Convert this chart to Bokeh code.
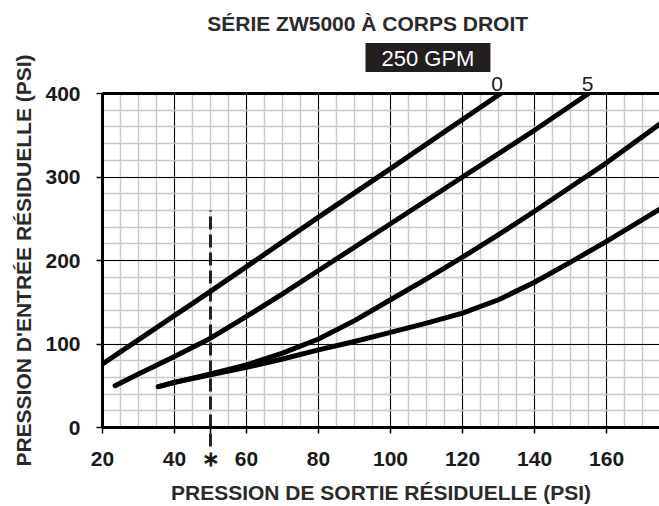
from bokeh.plotting import figure
from bokeh.models import Range1d, FixedTicker, LinearAxis, Title
from bokeh.embed import file_html
from bokeh.resources import INLINE

# ---- texts ----
title_text = "SÉRIE ZW5000 À CORPS DROIT"
flow_text = "250 GPM"
x_title = "PRESSION DE SORTIE RÉSIDUELLE (PSI)"
y_title = "PRESSION D'ENTRÉE RÉSIDUELLE (PSI)"

# ---- axes ----
x_ticks = [20, 40, 60, 80, 100, 120, 140, 160]
y_ticks = [0, 100, 200, 300, 400]
x_minor = list(range(20, 175, 5))
y_minor = list(range(0, 420, 20))

# ---- curves (outlet psi -> inlet psi) ----
curve0_x = [20, 50, 80, 100, 130.6]
curve0_y = [76, 163, 252, 310, 400]

curve5_x = [23.5, 30, 40, 50, 60, 70, 80, 100, 120, 140, 155]
curve5_y = [50, 64, 85, 107, 133, 160, 188, 244, 300, 356, 400]

curve3_x = [35.5, 40, 50, 60, 70, 80, 90, 100, 110, 120, 130, 140, 150, 160, 175]
curve3_y = [49, 54, 64, 75, 89, 106, 128, 153, 178, 204, 231, 259, 288, 317, 364]

curve4_x = [35.5, 40, 50, 60, 70, 80, 90, 100, 110, 120, 130, 140, 150, 160, 175]
curve4_y = [49, 54, 63, 72, 82, 93, 103, 114, 125, 137, 153, 174, 198, 223, 262]

curve_labels = ["0", "5"]
curve_label_x = [129.6, 154.7]

marker_x = 50
marker_label = "∗"
marker_top = 260

FONT = "Liberation Sans"
TXT = "#1a1a1a"

p = figure(width=659, height=506, output_backend="svg", toolbar_location=None,
           x_range=Range1d(20, 174.7), y_range=Range1d(0, 400),
           min_border_left=102, min_border_right=0, min_border_top=93,
           min_border_bottom=77)
p.background_fill_color = "white"
p.border_fill_color = "white"
p.outline_line_color = None

# dashed reference line (inside the frame)
p.segment(x0=[marker_x], y0=[0], x1=[marker_x], y1=[marker_top],
          line_color="#222222", line_width=3, line_dash="13 5")

for xs, ys in [(curve0_x, curve0_y), (curve5_x, curve5_y),
               (curve3_x, curve3_y), (curve4_x, curve4_y)]:
    p.line(xs, ys, line_width=5, line_color="black",
           line_cap="round", line_join="round")

# axes
p.xaxis.ticker = FixedTicker(ticks=sorted(x_ticks + [marker_x]), minor_ticks=[marker_x])
p.xaxis.major_label_overrides = {marker_x: marker_label}
p.yaxis.ticker = FixedTicker(ticks=y_ticks, minor_ticks=y_minor)
for ax in (p.xaxis[0], p.yaxis[0]):
    ax.axis_line_width = 3
    ax.axis_line_color = "black"
    ax.major_tick_out = 6
    ax.major_tick_in = 0
    ax.major_tick_line_width = 1.5
    ax.major_tick_line_color = "black"
    ax.major_label_text_font = FONT
    ax.major_label_text_font_style = "bold"
    ax.major_label_text_font_size = "21px"
    ax.major_label_text_color = TXT
    ax.axis_label_text_font = FONT
    ax.axis_label_text_font_style = "bold"
    ax.axis_label_text_font_size = "21px"
    ax.axis_label_text_color = "#2a2a2a"
p.yaxis.minor_tick_line_color = None
p.xaxis.minor_tick_out = 19
p.xaxis.minor_tick_in = 0
p.xaxis.minor_tick_line_width = 3
p.xaxis.minor_tick_line_color = "#222222"
p.xaxis.minor_tick_line_dash = "13 5"
p.xaxis.axis_label = x_title
p.yaxis.axis_label = y_title
p.xaxis.major_label_standoff = 0
p.xaxis.axis_label_standoff = 8
p.yaxis.major_label_standoff = 16
p.yaxis.axis_label_standoff = 7

# top border axis carrying the curve labels
top = LinearAxis(ticker=FixedTicker(ticks=curve_label_x),
                 major_label_overrides=dict(zip(curve_label_x, curve_labels)),
                 axis_line_width=3, axis_line_color="black",
                 major_tick_line_color=None, minor_tick_line_color=None,
                 major_label_standoff=-3, major_label_text_font=FONT,
                 major_label_text_font_size="21px", major_label_text_color=TXT)
p.add_layout(top, "above")

# flow box + title
p.add_layout(Title(text=flow_text, align="left", offset=263, standoff=3,
                   text_font=FONT, text_font_size="22px",
                   text_font_style="normal", text_color="white",
                   background_fill_color="#231f20",
                   padding={"left": 16, "right": 16, "top": 3, "bottom": 1}),
             "above")
p.title.text = title_text
p.title.align = "left"
p.title.offset = 104.7
p.title.standoff = 10
p.title.text_font = FONT
p.title.text_font_size = "21px"
p.title.text_font_style = "bold"
p.title.text_color = "#2a2a2a"

# grid
p.xgrid.ticker = FixedTicker(ticks=x_ticks, minor_ticks=x_minor)
for g in (p.xgrid[0], p.ygrid[0]):
    g.grid_line_color = "black"
    g.grid_line_width = 1
    g.grid_line_alpha = 1
    g.minor_grid_line_color = "#c8c8c8"
    g.minor_grid_line_width = 1.5

open("out.html", "w").write(file_html(p, INLINE))
